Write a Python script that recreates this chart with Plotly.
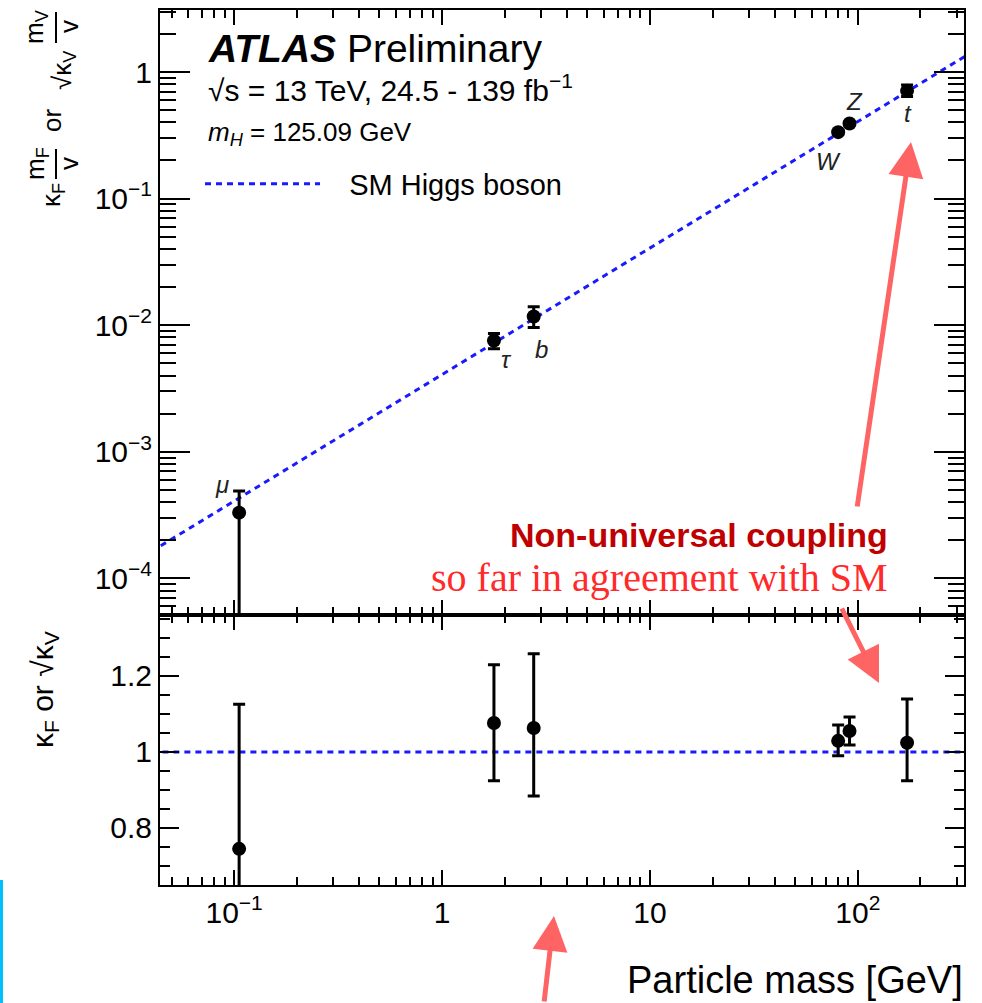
import numpy as np
import plotly.graph_objects as go

# ---------------- data ----------------
particles = ["μ", "τ", "b", "W", "Z", "t"]
mass_gev = [0.1057, 1.777, 2.76, 80.4, 91.19, 172.5]

# reduced coupling strength (top panel)
coupling = [3.3e-4, 7.55e-3, 1.17e-2, 0.335, 0.392, 0.71]
coupling_err_up = [1.6e-4, 1.05e-3, 2.3e-3, 0.012, 0.012, 0.08]
coupling_err_dn = [3.29e-4, 1.05e-3, 2.1e-3, 0.012, 0.012, 0.07]

# kappa_F or sqrt(kappa_V) (bottom panel)
kappa = [0.745, 1.076, 1.063, 1.029, 1.055, 1.024]
kappa_err_up = [0.38, 0.153, 0.195, 0.042, 0.037, 0.115]
kappa_err_dn = [0.75, 0.152, 0.179, 0.039, 0.037, 0.10]

# SM expectation line (m / v)
sm_mass = [0.04, 330.0]
sm_coupling = [1.63e-4, 1.34]
sm_kappa = [1.0, 1.0]

# label offsets (px) for particle names
label_dx = [-17, 13, 8, -10, 5, 1]
label_dy = [28, -19, -33, -29, 22, -23]

xtick_vals = [0.1, 1, 10, 100]
xtick_text = ["10<sup>−1</sup>", "1", "10", "10<sup>2</sup>"]
ytop_vals = [1e-4, 1e-3, 1e-2, 1e-1, 1]
ytop_text = ["10<sup>−4</sup>", "10<sup>−3</sup>", "10<sup>−2</sup>", "10<sup>−1</sup>", "1"]
ybot_vals = [0.8, 1.0, 1.2]
ybot_text = ["0.8", "1", "1.2"]

# ---------------- helpers ----------------
W, H = 982, 1003
def px(x):
    return x / W
def py(y):
    return 1 - y / H

minor_log = [k * 10.0 ** d for d in range(-5, 3) for k in range(2, 10)]

FONT = "Liberation Sans, Arial, Helvetica, sans-serif"
BLUE = "#1a1aff"

fig = go.Figure()

# SM line top
fig.add_trace(go.Scatter(
    x=sm_mass, y=sm_coupling, mode="lines", name="\u00a0\u00a0\u00a0SM Higgs boson",
    line=dict(color=BLUE, width=3, dash="6px,5px"),
    xaxis="x", yaxis="y", showlegend=True))
# data top
fig.add_trace(go.Scatter(
    x=mass_gev, y=coupling, mode="markers", showlegend=False,
    marker=dict(color="black", size=14),
    error_y=dict(type="data", symmetric=False, array=coupling_err_up,
                 arrayminus=coupling_err_dn, color="black", thickness=3, width=6),
    xaxis="x", yaxis="y"))
# SM line bottom
fig.add_trace(go.Scatter(
    x=sm_mass, y=sm_kappa, mode="lines", showlegend=False,
    line=dict(color=BLUE, width=3, dash="6px,5px"),
    xaxis="x2", yaxis="y2"))
# data bottom
fig.add_trace(go.Scatter(
    x=mass_gev, y=kappa, mode="markers", showlegend=False,
    marker=dict(color="black", size=14),
    error_y=dict(type="data", symmetric=False, array=kappa_err_up,
                 arrayminus=kappa_err_dn, color="black", thickness=3, width=6),
    xaxis="x2", yaxis="y2"))

xr = [np.log10(0.044), np.log10(324)]
xdom = [px(160), px(964)]
common = dict(showline=True, linewidth=2, linecolor="black", mirror="ticks",
              ticks="inside", tickcolor="black", tickwidth=2,
              showgrid=False, zeroline=False,
              tickfont=dict(family=FONT, size=30, color="black"))

fig.update_layout(
    width=W, height=H, margin=dict(l=0, r=0, t=0, b=0),
    paper_bgcolor="white", plot_bgcolor="white",
    font=dict(family=FONT, color="black"),
    xaxis=dict(type="log", range=xr, domain=xdom, anchor="y",
               showticklabels=False, tickmode="array", tickvals=xtick_vals,
               ticklen=15,
               minor=dict(tickmode="array", tickvals=minor_log, ticks="inside",
                          ticklen=8, tickcolor="black", tickwidth=2),
               **common),
    yaxis=dict(type="log", range=[-4.29, 0.49], domain=[py(615), py(10)], anchor="x",
               tickmode="array", tickvals=ytop_vals, ticktext=ytop_text, ticklen=30,
               minor=dict(tickmode="array", tickvals=minor_log, ticks="inside",
                          ticklen=16, tickcolor="black", tickwidth=2),
               **common),
    xaxis2=dict(type="log", range=xr, domain=xdom, anchor="y2", matches="x",
                tickmode="array", tickvals=xtick_vals, ticktext=xtick_text,
                ticklen=15,
                minor=dict(tickmode="array", tickvals=minor_log, ticks="inside",
                           ticklen=8, tickcolor="black", tickwidth=2),
                **common),
    yaxis2=dict(range=[0.65, 1.36], domain=[py(885), py(615)], anchor="x2",
                tickmode="array", tickvals=ybot_vals, ticktext=ybot_text, ticklen=19,
                minor=dict(dtick=0.05, ticks="inside", ticklen=10,
                           tickcolor="black", tickwidth=2),
                **common),
    legend=dict(x=px(200), y=py(184), xanchor="left", yanchor="middle",
                bgcolor="rgba(0,0,0,0)", itemwidth=115,
                font=dict(family=FONT, size=29, color="black")),
)

ann = []
# particle labels
for name, m, c, dx, dy in zip(particles, mass_gev, coupling, label_dx, label_dy):
    ann.append(dict(x=np.log10(m), y=np.log10(c), xref="x", yref="y",
                    text=f"<i>{name}</i>", showarrow=False, xshift=dx, yshift=dy,
                    font=dict(family=FONT, size=24, color="#222")))

# ATLAS text block
ann += [
    dict(x=px(206), y=py(48), xref="paper", yref="paper", xanchor="left", yanchor="middle",
         text="<b><i>ATLAS</i></b> Preliminary", showarrow=False,
         font=dict(family=FONT, size=39, color="black")),
    dict(x=px(206), y=py(88), xref="paper", yref="paper", xanchor="left", yanchor="middle",
         text="√s = 13 TeV, 24.5 - 139 fb<sup>−1</sup>", showarrow=False,
         font=dict(family=FONT, size=30, color="black")),
    dict(x=px(206), y=py(133), xref="paper", yref="paper", xanchor="left", yanchor="middle",
         text="<i>m<sub>H</sub></i> = 125.09 GeV", showarrow=False,
         font=dict(family=FONT, size=26, color="black")),
]


def rot(text, x, y, size):
    return dict(x=px(x), y=py(y), xref="paper", yref="paper", xanchor="center",
                yanchor="middle", text=text, textangle=-90, showarrow=False,
                font=dict(family=FONT, size=size, color="black"))

# axis titles
ann += [
    dict(x=px(965), y=py(980), xref="paper", yref="paper", xanchor="right", yanchor="middle",
         text="Particle mass [GeV]", showarrow=False,
         font=dict(family=FONT, size=38, color="black")),
    # top y title built as  kF (mF / v)  or  sqrt(kV) (mV / v)
    rot("κ<sub>F</sub>", 53, 195, 26),
    rot("m<sub>F</sub>", 36, 164, 26),
    rot("v", 69, 164, 26),
    rot("or", 52, 121, 26),
    rot("√κ<sub>V</sub>", 63, 70, 26),
    rot("m<sub>V</sub>", 36, 27, 26),
    rot("v", 69, 27, 26),
    rot("κ<sub>F</sub> or √κ<sub>V</sub>", 44, 690, 30),
]

# red commentary
ann += [
    dict(x=px(890), y=py(535), xref="paper", yref="paper", xanchor="right", yanchor="middle",
         text="<b>Non-universal coupling</b>", showarrow=False,
         font=dict(family=FONT, size=34, color="#c00000")),
    dict(x=px(890), y=py(577), xref="paper", yref="paper", xanchor="right", yanchor="middle",
         text="so far in agreement with SM", showarrow=False,
         font=dict(family="Liberation Serif, Times New Roman, serif", size=40, color="#ff2a2a")),
]

# arrows
ARROW = "#ff6464"
for (hx, hy, tx, ty) in [(911, 142, 857, 508), (879, 683, 841, 607), (554, 916, 544, 1003)]:
    ann.append(dict(x=px(hx), y=py(hy), xref="paper", yref="paper",
                    ax=tx - hx, ay=ty - hy, axref="pixel", ayref="pixel",
                    text="", showarrow=True, arrowhead=2, arrowsize=1.4,
                    arrowwidth=5, arrowcolor=ARROW))

fig.update_layout(annotations=ann)

# fraction bars of the top y title
for (y0, y1) in [(149, 179), (12, 43)]:
    fig.add_shape(type="line", xref="paper", yref="paper",
                  x0=px(56), x1=px(56), y0=py(y0), y1=py(y1),
                  line=dict(color="black", width=2))

# cyan edge artefact
fig.add_shape(type="rect", xref="paper", yref="paper",
              x0=0, x1=px(3), y0=py(1003), y1=py(880),
              fillcolor="#00bfff", line=dict(width=0))

fig.write_html("out.html")
